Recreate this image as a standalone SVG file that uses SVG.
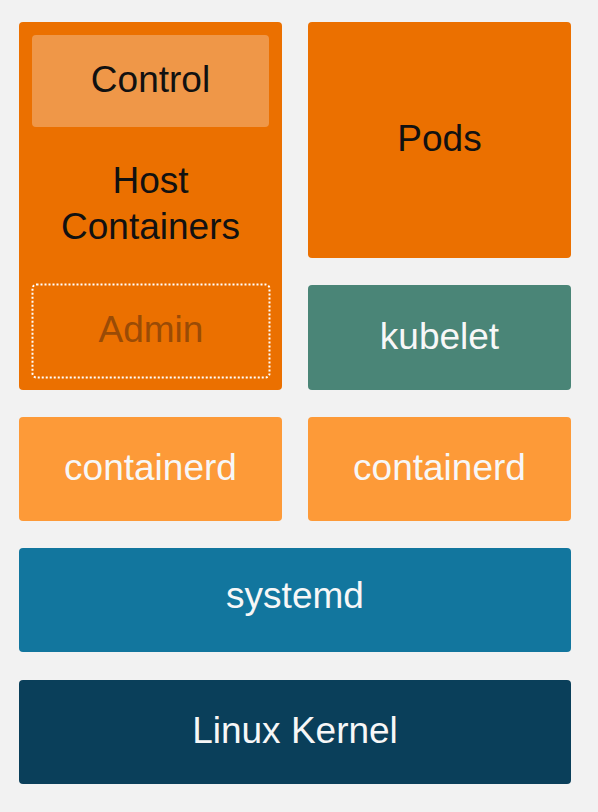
<svg xmlns="http://www.w3.org/2000/svg" width="598" height="812" viewBox="0 0 598 812">
<style>
text{font-family:"Liberation Sans",Arial,sans-serif;font-size:37px;text-anchor:middle}
.dark{fill:#111}
.light{fill:#f7f7f7}
.orange{fill:#eb7000}
.lorange{fill:#fd9a38}
</style>
<rect width="598" height="812" fill="#f2f2f2"/>
<g id="host-containers">
<rect class="orange" x="19" y="22" width="263" height="368" rx="4"/>
<text class="dark" x="150.5" y="193">Host</text>
<text class="dark" x="150.5" y="239">Containers</text>
</g>
<g id="control">
<rect x="32" y="35" width="237" height="92" rx="4" fill="#ef9748"/>
<text class="dark" x="150.5" y="92">Control</text>
</g>
<g id="admin">
<rect x="32.5" y="284.5" width="237" height="93" rx="4" fill="none" stroke="#ffffff" stroke-width="2" stroke-dasharray="2 2"/>
<text x="151" y="342" fill="#9a4b06">Admin</text>
</g>
<g id="pods">
<rect class="orange" x="308" y="22" width="263" height="236" rx="4"/>
<text class="dark" x="439.5" y="151">Pods</text>
</g>
<g id="kubelet">
<rect x="308" y="285" width="263" height="105" rx="4" fill="#4a8577"/>
<text class="light" x="439.5" y="349">kubelet</text>
</g>
<g id="containerd-left">
<rect class="lorange" x="19" y="417" width="263" height="104" rx="4"/>
<text class="light" x="150.5" y="480">containerd</text>
</g>
<g id="containerd-right">
<rect class="lorange" x="308" y="417" width="263" height="104" rx="4"/>
<text class="light" x="439.5" y="480">containerd</text>
</g>
<g id="systemd">
<rect x="19" y="548" width="552" height="104" rx="4" fill="#12769e"/>
<text class="light" x="295" y="608">systemd</text>
</g>
<g id="linux-kernel">
<rect x="19" y="680" width="552" height="104" rx="4" fill="#0a3f5a"/>
<text class="light" x="295" y="743">Linux Kernel</text>
</g>
<g id="connectors"/>
</svg>
